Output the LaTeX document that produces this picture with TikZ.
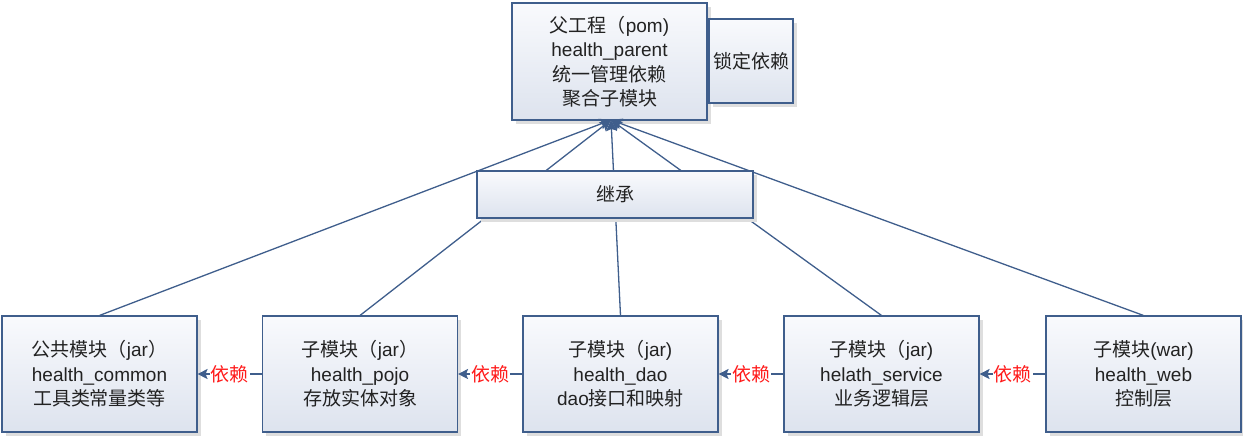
\documentclass[tikz,border=0pt]{standalone}
\usepackage{fontspec}
\setmainfont{Liberation Sans}
\newfontfamily\cjk{Noto Sans CJK SC}
\usetikzlibrary{shadows,arrows.meta}
\definecolor{bd}{HTML}{3F5E8C}
\definecolor{tx}{HTML}{222222}
\definecolor{boxtop}{HTML}{F9FAFD}
\definecolor{boxbot}{HTML}{DDE3EE}
\definecolor{deptext}{HTML}{FF1A1A}
\tikzset{
  box/.style={draw=bd, line width=1.1pt, top color=boxtop, bottom color=boxbot,
    drop shadow={shadow xshift=3.5pt, shadow yshift=-3.5pt, fill=black!13, opacity=1},
    align=center, text=tx, font=\fontsize{19}{24.5}\selectfont, inner sep=0pt},
  modbox/.style={box, minimum width=195pt, minimum height=116pt},
  inherit/.style={draw=bd, line width=1.3pt, -{Stealth[length=11pt,width=11pt,inset=2pt]}},
  dep/.style={draw=bd, line width=1.3pt, -{Stealth[length=10pt,width=10pt,inset=2pt]}},
  deplabel/.style={fill=white, inner sep=1pt, text=deptext, font=\fontsize{19}{24}\selectfont\cjk}
}
\begin{document}
\begin{tikzpicture}[x=1pt,y=-1pt]
\useasboundingbox (0,0) rectangle (1243,437);
\node[box, minimum width=195pt, minimum height=117pt] (p) at (609.5,61.5)
  {{\cjk 父工程（}pom)\\health\_parent\\{\cjk 统一管理依赖}\\{\cjk 聚合子模块}};
\node[box, minimum width=84pt, minimum height=84pt] (lock) at (751,61) {\cjk 锁定依赖};
\node[modbox] (b1) at (99.5,374) {{\cjk 公共模块（}jar{\cjk ）}\\health\_common\\{\cjk 工具类常量类等}};
\node[modbox] (b2) at (360,374) {{\cjk 子模块（}jar{\cjk ）}\\health\_pojo\\{\cjk 存放实体对象}};
\node[modbox] (b3) at (620.5,374) {{\cjk 子模块（}jar)\\health\_dao\\dao{\cjk 接口和映射}};
\node[modbox] (b4) at (881.5,374) {{\cjk 子模块（}jar)\\helath\_service\\{\cjk 业务逻辑层}};
\node[modbox] (b5) at (1143.5,374) {{\cjk 子模块}(war)\\health\_web\\{\cjk 控制层}};
\coordinate (tip) at (611,120);
\foreach \b in {b1,b2,b3,b4,b5} \draw[inherit] (\b.north) -- (tip);
\draw[dep] (b2.west) -- node[deplabel] {依赖} (b1.east);
\draw[dep] (b3.west) -- node[deplabel] {依赖} (b2.east);
\draw[dep] (b4.west) -- node[deplabel] {依赖} (b3.east);
\draw[dep] (b5.west) -- node[deplabel] {依赖} (b4.east);
\node[box, minimum width=276pt, minimum height=47pt, font=\fontsize{19}{24}\selectfont\cjk] (inh) at (615,194.5) {继承};
\end{tikzpicture}
\end{document}
